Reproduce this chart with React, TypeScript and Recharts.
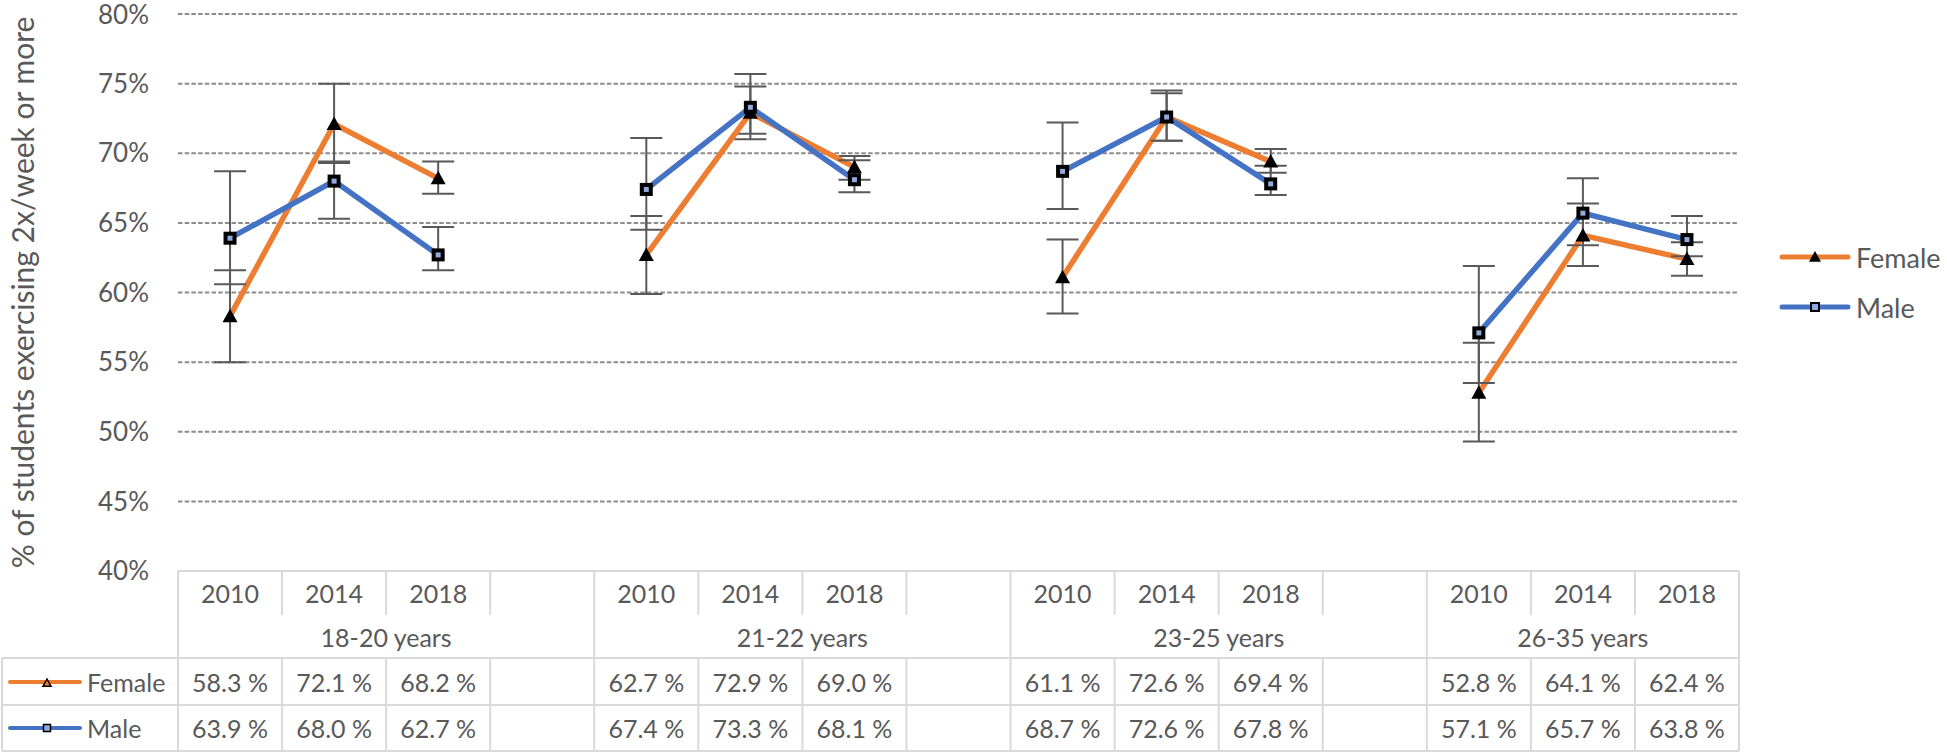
import React from "react"
import { LineChart, Line, XAxis, YAxis, CartesianGrid, ErrorBar } from "recharts"

const groups = ["18-20 years", "21-22 years", "23-25 years", "26-35 years"]
const years = ["2010", "2014", "2018"]
const yTicks = [40, 45, 50, 55, 60, 65, 70, 75, 80]

// one value per group/year, in order
const femaleValues = [58.3, 72.1, 68.2, 62.7, 72.9, 69.0, 61.1, 72.6, 69.4, 52.8, 64.1, 62.4]
const maleValues = [63.9, 68.0, 62.7, 67.4, 73.3, 68.1, 68.7, 72.6, 67.8, 57.1, 65.7, 63.8]

// error bar ends
const femaleLow = [55.0, 69.3, 67.1, 59.9, 71.4, 68.1, 58.5, 70.9, 68.6, 49.3, 61.9, 61.2]
const femaleHigh = [61.6, 75.0, 69.4, 65.5, 74.8, 69.8, 63.8, 74.3, 70.3, 56.4, 66.4, 63.6]
const maleLow = [60.6, 65.3, 61.6, 64.5, 71.0, 67.2, 66.0, 70.9, 67.0, 53.5, 63.4, 62.6]
const maleHigh = [68.7, 69.4, 64.7, 71.1, 75.7, 69.5, 72.2, 74.5, 69.1, 61.9, 68.2, 65.5]

const ORANGE = "#ED7D31"
const BLUE = "#4472C4"
const MARKER_FILL = "#8FAADC"
const TEXT = "#595959"
const BORDER = "#D9D9D9"
const FONT = "Lato, 'Open Sans', sans-serif"

const CHART_W = 1947
const CHART_H = 752
const MARGIN = { top: 14, right: 208, bottom: 0, left: 0 }
const YAXIS_W = 178
const XAXIS_H = 181
const PLOT_W = CHART_W - MARGIN.left - MARGIN.right - YAXIS_W
const TABLE_TOP = CHART_H - MARGIN.bottom - XAXIS_H

type Row = {
  id: string
  group: string
  year: string
  female?: number
  male?: number
  femaleErr?: number[]
  maleErr?: number[]
}

const rows: Row[] = []
groups.forEach((group, g) => {
  years.forEach((year, y) => {
    const i = g * years.length + y
    rows.push({
      id: `${group}-${year}`,
      group,
      year,
      female: femaleValues[i],
      male: maleValues[i],
      femaleErr: [femaleValues[i] - femaleLow[i], femaleHigh[i] - femaleValues[i]],
      maleErr: [maleValues[i] - maleLow[i], maleHigh[i] - maleValues[i]],
    })
  })
  // empty spacer column between the age groups
  if (g < groups.length - 1) rows.push({ id: `${group}-gap`, group, year: "" })
})

const CELL_W = PLOT_W / rows.length

const fmt = (v?: number) => (v == null ? "" : `${v.toFixed(1)} %`)

function Triangle({ cx, cy, size = 7, fill = "#000", stroke = "none", sw = 0 }: any) {
  return (
    <path
      d={`M${cx} ${cy - size} L${cx + size} ${cy + size * 0.8} L${cx - size} ${cy + size * 0.8} Z`}
      fill={fill}
      stroke={stroke}
      strokeWidth={sw}
    />
  )
}

function Square({ cx, cy, size = 9, sw = 4 }: any) {
  return (
    <rect x={cx - size / 2} y={cy - size / 2} width={size} height={size} fill={MARKER_FILL} stroke="#000" strokeWidth={sw} />
  )
}

const series = [
  { key: "female", name: "Female", color: ORANGE },
  { key: "male", name: "Male", color: BLUE },
]

function FemaleDot(props: any) {
  const { cx, cy, value } = props
  if (value == null || cx == null || cy == null) return <g key={props.key} />
  return <Triangle key={props.key} cx={cx} cy={cy} size={7.5} />
}

function MaleDot(props: any) {
  const { cx, cy, value } = props
  if (value == null || cx == null || cy == null) return <g key={props.key} />
  return <Square key={props.key} cx={cx} cy={cy} />
}

function TableCell(props: any) {
  const { x, payload } = props
  const index = rows.findIndex((r) => r.id === payload.value)
  const row = rows[index]
  if (!row) return null
  const cw = CELL_W
  const left = x - cw / 2
  const right = x + cw / 2
  const t = TABLE_TOP
  const r1 = t + 87
  const r2 = t + 134
  const bottom = t + 180
  const groupStart = row.year === years[0]
  const isLast = index === rows.length - 1
  const n = rows.filter((r) => r.group === row.group).length
  const textProps = { fill: TEXT, fontSize: 25, fontFamily: FONT, textAnchor: "middle" as const, dominantBaseline: "central" as const }

  return (
    <g>
      {/* cell borders */}
      {groupStart ? (
        <line x1={left} x2={left} y1={t} y2={bottom} stroke={BORDER} strokeWidth={2} />
      ) : (
        <>
          <line x1={left} x2={left} y1={t} y2={t + 44} stroke={BORDER} strokeWidth={2} />
          <line x1={left} x2={left} y1={r1} y2={bottom} stroke={BORDER} strokeWidth={2} />
        </>
      )}
      {isLast && <line x1={right} x2={right} y1={t} y2={bottom} stroke={BORDER} strokeWidth={2} />}
      <line x1={left} x2={right} y1={r1} y2={r1} stroke={BORDER} strokeWidth={2} />
      <line x1={left} x2={right} y1={r2} y2={r2} stroke={BORDER} strokeWidth={2} />
      <line x1={left} x2={right} y1={bottom} y2={bottom} stroke={BORDER} strokeWidth={2} />

      <text x={x} y={t + 22} {...textProps}>{row.year}</text>
      {groupStart && (
        <text x={left + (n * cw) / 2} y={t + 66} {...textProps}>{row.group}</text>
      )}
      <text x={x} y={t + 111} {...textProps}>{fmt(row.female)}</text>
      <text x={x} y={t + 157} {...textProps}>{fmt(row.male)}</text>

      {/* row labels with series keys */}
      {index === 0 && (
        <g>
          <line x1={2} x2={2} y1={r1} y2={bottom} stroke={BORDER} strokeWidth={2} />
          <line x1={2} x2={left} y1={r1} y2={r1} stroke={BORDER} strokeWidth={2} />
          <line x1={2} x2={left} y1={r2} y2={r2} stroke={BORDER} strokeWidth={2} />
          <line x1={2} x2={left} y1={bottom} y2={bottom} stroke={BORDER} strokeWidth={2} />
          <line x1={10} x2={80} y1={t + 111} y2={t + 111} stroke={ORANGE} strokeWidth={4} strokeLinecap="round" />
          <Triangle cx={47} cy={t + 112} size={4} fill={ORANGE} stroke="#000" sw={1.5} />
          <text x={87} y={t + 111} {...textProps} textAnchor="start">Female</text>
          <line x1={10} x2={80} y1={t + 157} y2={t + 157} stroke={BLUE} strokeWidth={4} strokeLinecap="round" />
          <Square cx={47} cy={t + 157} size={7} sw={1.5} />
          <text x={87} y={t + 157} {...textProps} textAnchor="start">Male</text>
        </g>
      )}
    </g>
  )
}

function YTitle(props: any) {
  const { viewBox } = props
  const cy = viewBox.y + viewBox.height / 2
  return (
    <text
      transform={`translate(${viewBox.x + 22}, ${cy}) rotate(-90)`}
      textAnchor="middle"
      dominantBaseline="central"
      fill={TEXT}
      fontSize={30}
      fontFamily={FONT}
    >
      % of students exercising 2x/week or more
    </text>
  )
}

function SideLegend() {
  return (
    <div style={{ position: "absolute", left: 1779, top: 232, fontFamily: FONT }}>
      {series.map((s) => (
        <div key={s.key} style={{ display: "flex", alignItems: "center", height: 50 }}>
          <svg width={72} height={20}>
            <line x1={3} x2={69} y1={10} y2={10} stroke={s.color} strokeWidth={5} strokeLinecap="round" />
            {s.key === "female" ? (
              <Triangle cx={36} cy={10} size={6} />
            ) : (
              <Square cx={36} cy={10} size={8} sw={2} />
            )}
          </svg>
          <span style={{ marginLeft: 5, fontSize: 27, color: TEXT }}>{s.name}</span>
        </div>
      ))}
    </div>
  )
}

export default function App() {
  return (
    <div style={{ position: "absolute", left: 0, top: 0, width: CHART_W, height: CHART_H, background: "#fff" }}>
      <LineChart width={CHART_W} height={CHART_H} data={rows} margin={MARGIN}>
        <CartesianGrid vertical={false} stroke="#8C8C8C" strokeWidth={2} strokeDasharray="4.5 2.2" />
        <XAxis
          dataKey="id"
          height={XAXIS_H}
          interval={0}
          padding={{ left: CELL_W / 2, right: CELL_W / 2 }}
          tickLine={false}
          axisLine={{ stroke: BORDER, strokeWidth: 2 }}
          tick={<TableCell />}
        />
        <YAxis
          width={YAXIS_W}
          domain={[40, 80]}
          ticks={yTicks}
          tickFormatter={(v) => `${v}%`}
          axisLine={false}
          tickLine={false}
          tickSize={0}
          tickMargin={29}
          tick={{ fill: TEXT, fontSize: 26, fontFamily: FONT }}
          label={{ content: <YTitle /> }}
        />
        <Line
          dataKey="female"
          name="Female"
          stroke={ORANGE}
          strokeWidth={5.5}
          dot={<FemaleDot />}
          activeDot={false}
          isAnimationActive={false}
        >
          <ErrorBar dataKey="femaleErr" direction="y" width={16} stroke="#595959" strokeWidth={2} isAnimationActive={false} />
        </Line>
        <Line
          dataKey="male"
          name="Male"
          stroke={BLUE}
          strokeWidth={5.5}
          dot={<MaleDot />}
          activeDot={false}
          isAnimationActive={false}
        >
          <ErrorBar dataKey="maleErr" direction="y" width={16} stroke="#595959" strokeWidth={2} isAnimationActive={false} />
        </Line>
      </LineChart>
      <SideLegend />
    </div>
  )
}
